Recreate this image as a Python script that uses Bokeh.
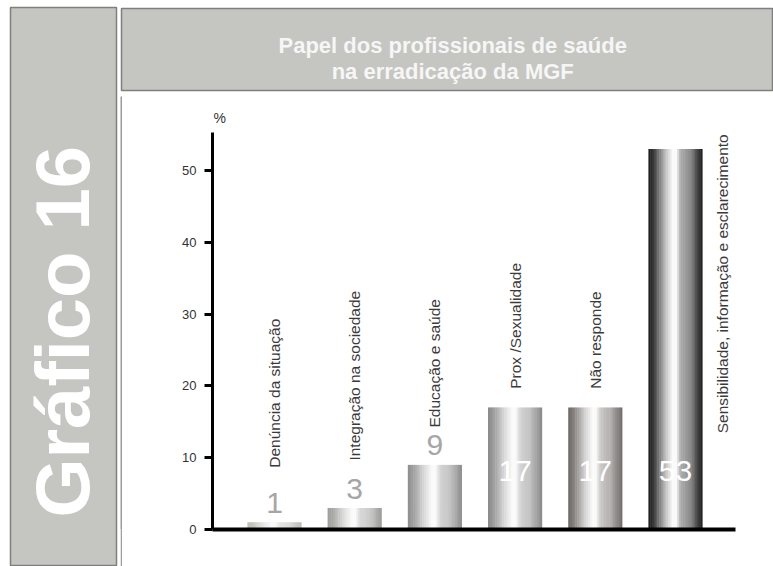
import math
from bokeh.plotting import figure
from bokeh.layouts import row, column
from bokeh.models import Range1d, FixedTicker
from bokeh.core.properties import value
from bokeh.embed import file_html
from bokeh.resources import INLINE

# ---------------- data ----------------
categories = ["Denúncia da situação", "Integração na sociedade", "Educação e saúde",
              "Prox /Sexualidade", "Não responde",
              "Sensibilidade, informação e  esclarecimento"]
percentages = [1, 3, 9, 17, 17, 53]
y_ticks = [0, 10, 20, 30, 40, 50]
title_lines = ["Papel dos profissionais de saúde", "na erradicação da MGF"]
side_title = "Gráfico 16"
unit_label = "%"

# ---------------- style ----------------
FONT = "Liberation Sans"
PANEL = "#c5c5c1"
EDGE = "#7f7f7f"
LINE = "#9c9c9c"
bar_edges = ["#bdbdb5", "#9c9c9a", "#8e8e8e", "#8a8a8a", "#6f6a68", "#1b1b1b"]
# label anchors (layout, in axis units)
cat_label_base = [8.6, 9.6, 14.2, 19.6, 19.6, 13.4]
cat_label_dx = [0, 0, 0, 0, 0, 0.59]


def panel_fig(w, h, bg, border="white", outline=None, left=0, right=0, top=0, bottom=0):
    f = figure(width=w, height=h, x_range=Range1d(0, 1), y_range=Range1d(0, 1),
               toolbar_location=None, output_backend="svg",
               x_axis_location=None, y_axis_location=None,
               min_border=0, min_border_left=left, min_border_right=right,
               min_border_top=top, min_border_bottom=bottom,
               background_fill_color=bg, border_fill_color=border,
               outline_line_color=outline)
    f.grid.visible = False
    return f


# left side panel (x 10..116, y 7..)
left = panel_fig(120, 566, PANEL, outline=EDGE, left=10, right=4, top=7)
left.outline_line_width = 1.5
left.text(x=[0.49], y=[0.42], text=[side_title], angle=math.pi / 2,
          text_align="center", text_baseline="middle",
          text_font=value(FONT), text_font_style="bold",
          text_font_size="76px", text_color="white")

# title panel (x 121..773, y 8..90)
tfig = panel_fig(653, 94, PANEL, outline=EDGE, left=1, top=8, bottom=4)
tfig.outline_line_width = 1.5
tfig.text(x=[0.508, 0.508], y=[0.549, 0.232], text=title_lines,
          text_align="center", text_baseline="alphabetic",
          text_font=value(FONT), text_font_style="bold",
          text_font_size="22px", text_color="#f6f6f6")

# thin border lines of chart panel
topline = panel_fig(653, 2, LINE, border=LINE)
leftline = panel_fig(2, 470, LINE, border=LINE)

# main chart (canvas x 122..773, y 96..566; frame x 212..735, y 96..529)
p = figure(width=651, height=470, x_range=Range1d(-0.773, 5.748), y_range=Range1d(0, 60.3),
           toolbar_location=None, output_backend="svg",
           min_border_left=90, min_border_right=38, min_border_top=0, min_border_bottom=37,
           background_fill_color="white", border_fill_color="white", outline_line_color=None)
p.grid.visible = False

# cylinder-like gradient bars built from thin strips
pts = [(0.0, 0.0), (0.1, 0.15), (0.3, 0.7), (0.45, 1.0), (0.52, 1.0),
       (0.6, 0.65), (0.78, 0.5), (1.0, 0.0)]


def weight(t):
    for (a, wa), (b, wb) in zip(pts[:-1], pts[1:]):
        if a <= t <= b:
            return wa + (wb - wa) * (t - a) / (b - a)
    return 0.0


def shade(hexc, t):
    r, g, b = (int(hexc[i:i + 2], 16) for i in (1, 3, 5))
    w = weight(t)
    r, g, b = (int(c + (250 - c) * w) for c in (r, g, b))
    return "#%02x%02x%02x" % (r, g, b)


N = 30
bw = 0.67
xs, tops, cols = [], [], []
for i, v in enumerate(percentages):
    for k in range(N):
        t = (k + 0.5) / N
        xs.append(i - bw / 2 + t * bw)
        tops.append(v)
        cols.append(shade(bar_edges[i], t))
p.vbar(x=xs, top=tops, bottom=0, width=bw / N * 1.25, fill_color=cols, line_color=None)

# value labels
vx, vy, vt, vc = [], [], [], []
for i, v in enumerate(percentages):
    inside = v > 12
    vx.append(i)
    vy.append(8.1 if inside else v + 2.7)
    vt.append(str(v))
    vc.append("white" if inside else "#a6a6a6")
p.text(x=vx, y=vy, text=vt, text_color=vc, text_align="center", text_baseline="alphabetic",
       text_font=value(FONT), text_font_size="30px")

# category labels (vertical)
p.text(x=[i + d for i, d in enumerate(cat_label_dx)], y=cat_label_base, text=categories,
       angle=math.pi / 2, text_align="left", text_baseline="middle",
       text_font=value(FONT), text_font_size="15.5px", text_color="#3a3a3a")

# unit label at the top of the value axis (kept inside the frame)
p.text(x=[-0.773], y=[57.3], x_offset=1, text=[unit_label], text_align="left",
       text_baseline="middle", text_font=value(FONT), text_font_size="14px",
       text_color="#333333")

# axes
p.yaxis.ticker = FixedTicker(ticks=y_ticks)
p.yaxis.bounds = (0, 55.3)
p.yaxis.axis_line_width = 3
p.yaxis.axis_line_color = "black"
p.yaxis.major_tick_out = 8
p.yaxis.major_tick_in = 0
p.yaxis.major_tick_line_width = 3
p.yaxis.major_tick_line_color = "black"
p.yaxis.minor_tick_line_color = None
p.yaxis.major_label_standoff = 8
p.yaxis.major_label_text_font = FONT
p.yaxis.major_label_text_font_size = "13px"
p.yaxis.major_label_text_color = "#333333"

p.xaxis.ticker = FixedTicker(ticks=[])
p.xaxis.axis_line_width = 4
p.xaxis.axis_line_color = "black"
p.xaxis.major_tick_line_color = None
p.xaxis.minor_tick_line_color = None
p.xaxis.major_label_text_font_size = "0px"

layout = row(left, column(tfig, topline, row(leftline, p)))

open("out.html", "w").write(file_html(layout, INLINE))
